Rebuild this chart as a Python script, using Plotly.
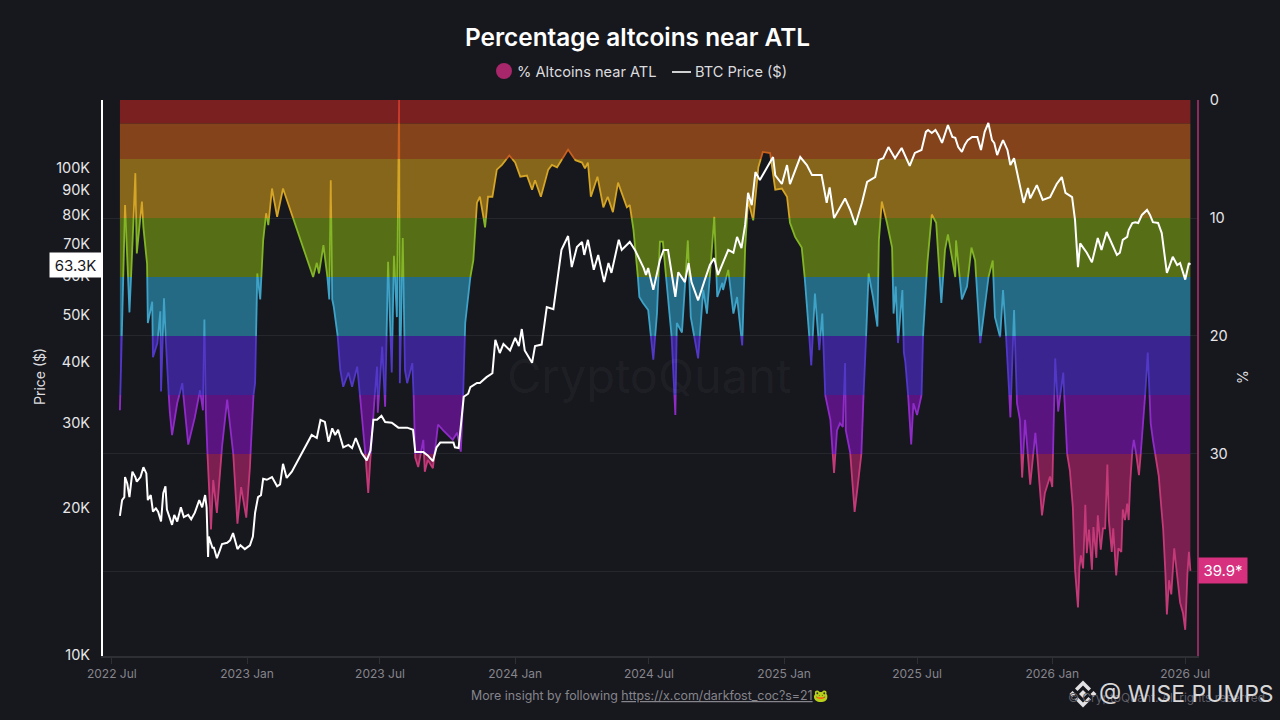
import numpy as np
import pandas as pd
import plotly.graph_objects as go

START = pd.Timestamp("2022-07-01")

# % altcoins near ATL: days since START, percent
alt_days = [11,14,18,21,24,28,32,34,41,43,48,49,55,56,62,66,67,71,75,79,82,89,96,100,104,113,120,124,126,128,130,135,138,143,150,157,161,165,171,176,183,188,192,195,198,202,206,210,213,218,225,233,274,279,282,288,293,296,298,300,302,307,311,315,322,327,334,338,342,349,352,356,361,362,368,372,376,381,384,388,391,392,396,399,402,409,411,413,417,424,426,430,437,444,451,464,470,475,478,481,488,492,497,501,505,508,512,518,524,531,541,549,556,565,572,576,584,594,599,606,621,631,640,644,648,652,661,669,675,682,689,696,701,705,710,716,718,723,730,737,742,746,750,756,762,767,769,776,784,788,798,805,810,817,820,824,831,832,839,846,851,858,862,866,873,880,886,896,903,912,919,923,930,939,943,948,952,957,963,967,971,978,983,987,991,995,998,999,1005,1011,1015,1020,1023,1027,1030,1036,1042,1044,1048,1055,1062,1064,1067,1070,1076,1078,1080,1084,1088,1091,1096,1102,1104,1110,1116,1122,1129,1134,1138,1148,1149,1157,1164,1170,1175,1182,1192,1199,1202,1209,1213,1219,1223,1228,1232,1236,1239,1243,1250,1257,1264,1266,1270,1277,1280,1284,1288,1295,1298,
            1300,1304,1308,1310,1311,1315,1317,1319,1322,1325,1327,1330,1334,1336,1340,1342,1346,1349,1352,1355,1357,1361,1363,1367,1370,1374,1376,1379,1382,1384,1386,1389,1391,1394,1398,1402,1406,1410,1414,1417,1423,1425,1428,1431,1434,1436,1439,1442,1446,1450,1454,1458,1461,1464,1466,1468]
alt_pct = [26.3,18.9,8.9,13.3,18.0,12.5,6.2,13.0,8.6,10.8,13.9,18.9,17.1,21.8,20.6,17.9,24.7,16.8,22.6,26.5,28.4,25.7,24.0,26.9,29.2,26.9,24.6,26.3,18.6,26.5,29.7,36.4,32.2,35.0,29.4,25.4,27.4,29.7,35.9,32.8,35.4,31.1,25.4,24.0,14.7,16.9,11.9,9.6,10.6,7.5,9.9,7.5,15.0,13.8,14.7,12.3,14.7,16.9,6.8,16.9,17.5,19.7,22.9,24.3,23.1,24.3,22.6,25.2,27.4,33.3,30.3,26.5,22.6,26.5,20.9,26.0,13.7,23.1,13.2,18.4,0.0,24.0,11.7,22.9,24.0,22.3,25.4,30.3,31.1,28.8,31.5,30.5,31.2,27.5,28.0,28.8,28.2,29.8,25.4,18.9,15.0,13.6,8.7,8.2,9.6,10.8,8.2,8.2,5.9,5.5,4.7,5.3,6.5,6.4,7.6,6.8,8.2,5.9,5.5,5.7,4.2,5.1,5.3,5.8,5.3,8.2,6.5,9.1,8.2,9.5,7.0,8.2,9.1,8.9,11.0,15.0,16.7,17.2,17.8,22.0,18.1,12.0,12.0,16.1,20.1,26.7,18.9,19.7,11.9,18.4,21.9,16.1,18.1,12.5,9.9,16.7,15.5,16.1,14.4,18.1,16.7,20.8,12.5,8.5,10.2,5.7,4.4,4.5,7.6,7.5,8.2,10.4,11.6,12.5,15.0,18.9,22.5,16.4,21.2,18.1,25.0,27.1,31.6,28.0,27.4,27.7,22.3,28.0,29.9,34.9,32.8,30.3,25.2,19.5,14.7,16.7,19.2,11.9,8.6,10.4,12.5,18.1,15.8,20.6,16.1,21.4,22.2,25.2,29.2,25.7,26.7,25.2,20.1,13.8,9.7,10.4,17.2,12.7,11.4,15.0,11.9,16.9,15.8,12.5,13.6,20.6,15.3,13.6,18.4,20.1,16.1,21.8,26.9,17.8,25.7,27.1,32.0,27.1,32.6,28.2,33.3,35.2,33.3,31.9,32.8,21.9,26.4,23.1,27.4,
           29.9,31.4,34.5,38.7,39.8,43.0,39.6,38.6,39.7,34.3,38.4,36.4,39.8,36.2,38.8,35.2,38.1,36.3,36.3,30.9,35.6,38.3,36.3,40.3,38.0,38.3,34.7,35.6,34.2,35.6,32.5,29.7,28.8,29.9,31.8,28.8,25.4,21.4,27.4,28.8,31.1,31.9,34.2,36.4,40.1,43.6,40.7,41.9,38.0,40.4,42.6,43.5,44.9,40.1,38.3,39.9]

# BTC price: days since START, thousand dollars
btc_days = [11,14,17,18,21,24,28,32,34,39,43,47,49,53,56,60,63,67,70,73,75,82,85,89,94,98,104,108,113,119,123,127,129,131,132,137,139,143,147,150,157,161,165,171,175,181,188,192,195,199,203,206,
            211,218,225,229,233,238,245,272,279,284,290,295,300,304,308,315,322,327,332,340,347,352,356,361,367,372,381,390,402,410,413,424,430,437,442,447,465,467,472,474,479,485,488,497,501,510,518,522,528,533,542,549,554,558,562,572,576,585,592,601,608,612,621,626,633,640,643,648,656,662,670,676,680,690,694,705,712,724,727,730,737,746,751,757,767,771,780,785,789,798,807,814,820,825,839,846,851,857,862,866,871,876,882,891,900,903,912,919,923,937,946,953,966,973,977,983,998,1005,1012,1021,1028,1039,1044,1050,1057,1066,1075,1086,1093,1102,
            1108,1111,1116,1121,1125,1130,1134,1138,1144,1148,1152,1157,1161,1165,1171,1178,1183,1188,1193,1198,1201,1205,1209,1213,1219,1223,1228,1234,
            1241,1247,1250,1259,1267,1277,1286,1293,1298,1307,1311,1315,1318,1327,1334,1342,1347,1354,
            1359,1363,1368,1372,1376,1382,1384,1389,1393,1397,1402,1409,1413,1417,1424,1429,1432,1436,1439,1444,1450,1454,1461,1466,1468]
btc_price_k = [19.3,20.8,21.1,23.2,22.5,21.1,23.8,23.2,22.7,23.2,24.3,23.6,20.8,21.3,19.7,20.0,19.7,18.8,21.5,22.2,19.9,18.5,19.4,18.8,20.1,19.2,19.4,19.0,19.6,20.8,20.1,21.3,20.1,15.9,17.5,16.6,16.6,15.8,16.4,16.9,17.0,17.2,17.8,16.5,16.8,16.5,16.8,17.5,19.6,21.1,21.3,23.0,
               22.9,23.2,22.2,22.4,24.7,23.1,23.8,28.3,27.9,30.4,30.1,27.4,29.2,28.3,29.0,26.7,27.0,26.6,27.9,26.0,25.1,26.3,30.4,30.4,31.0,30.1,30.0,29.3,29.3,29.0,26.1,26.1,25.7,25.0,26.7,27.3,27.3,26.7,26.6,28.6,33.9,34.4,35.5,36.2,36.2,37.2,37.9,44.4,41.7,43.5,42.2,44.8,43.1,46.7,42.2,39.8,43.1,43.4,51.8,51.3,61.8,67.9,72.5,62.6,68.8,70.5,66.3,71.2,61.8,66.3,58.3,63.8,60.9,71.2,67.9,70.5,67.9,62.3,60.3,62.3,56.2,64.7,67.9,67.9,54.4,61.1,58.3,63.8,58.3,53.5,58.9,63.2,65.3,60.3,67.9,67.0,72.2,68.5,76.4,88.9,83.9,98.1,94.5,100.0,105.3,96.6,92.7,101.4,92.7,105.3,101.4,96.7,96.7,84.8,91.2,78.9,86.6,82.0,76.4,84.8,93.6,95.8,103.9,104.7,110.4,104.7,109.9,101.0,107.4,108.9,
               118.6,119.7,118.0,119.7,116.9,112.6,116.9,122.5,115.8,115.3,110.4,107.9,111.6,114.1,115.8,115.8,108.9,118.6,123.7,114.1,112.6,106.3,110.4,114.1,108.9,101.4,104.7,95.4,
               84.8,91.0,86.6,92.2,86.0,87.1,92.7,95.8,88.9,87.1,78.2,62.6,70.0,67.0,64.0,71.8,67.9,73.9,
               71.2,68.8,66.3,67.0,71.2,72.2,74.6,77.1,77.4,77.1,80.1,82.0,80.1,77.4,77.1,73.5,67.9,60.9,62.6,65.7,63.2,63.8,59.0,63.8,63.3]

band_edges = [0, 2, 5, 10, 15, 20, 25, 30, 60]
band_fill = ["#7a2020", "#84431a", "#85661a", "#566f17", "#256a85", "#3a2490", "#5a1480", "#7a1f4f"]
band_line = ["#c63a2c", "#c8601f", "#d4a526", "#84b526", "#3fa3c8", "#5238c6", "#8f2cc8", "#c43a78"]

x_tick_dates = ["2022-07-01","2023-01-01","2023-07-01","2024-01-01","2024-07-01","2025-01-01","2025-07-01","2026-01-01","2026-07-01"]
x_tick_text = ["2022 Jul","2023 Jan","2023 Jul","2024 Jan","2024 Jul","2025 Jan","2025 Jul","2026 Jan","2026 Jul"]
price_ticks = [10000,20000,30000,40000,50000,60000,70000,80000,90000,100000]
price_tick_text = ["10K","20K","30K","40K","50K","60K","70K","80K","90K","100K"]
pct_ticks = [0,10,20,30,40]
pct_tick_text = ["0","10","20","30",""]

BG = "#17171e"
W, H = 1280, 720
L, R, T, B = 103, 1197, 100, 656


def px(x):
    return (x - L) / (R - L)


def py(y):
    return (B - y) / (B - T)


def with_band_crossings(days, vals, edges):
    """Add the points where the polyline crosses a band edge, so that colours split cleanly."""
    out_d, out_v = [days[0]], [vals[0]]
    for d0, v0, d1, v1 in zip(days[:-1], vals[:-1], days[1:], vals[1:]):
        cuts = [e for e in edges if min(v0, v1) < e < max(v0, v1)]
        cuts.sort(reverse=v0 > v1)
        for e in cuts:
            out_d.append(d0 + (e - v0) / (v1 - v0) * (d1 - d0))
            out_v.append(e)
        out_d.append(d1)
        out_v.append(v1)
    return np.array(out_d), np.array(out_v, dtype=float)


def to_dates(days):
    return START + pd.to_timedelta(np.asarray(days, dtype=float), unit="D")


d, v = with_band_crossings(alt_days, alt_pct, band_edges)
dates = to_dates(d)

fig = go.Figure()
for i in range(len(band_fill)):
    lo, hi = band_edges[i], band_edges[i + 1]
    fig.add_trace(go.Scatter(x=dates, y=np.full(len(d), lo), mode="lines", line=dict(width=0),
                             hoverinfo="skip", showlegend=False, yaxis="y"))
    fig.add_trace(go.Scatter(x=dates, y=np.clip(v, lo, hi), mode="lines", line=dict(width=0),
                             fill="tonexty", fillcolor=band_fill[i], hoverinfo="skip",
                             showlegend=False, yaxis="y"))
for i in range(len(band_line)):
    lo, hi = band_edges[i], band_edges[i + 1]
    fig.add_trace(go.Scatter(x=dates, y=np.where((v >= lo) & (v <= hi), v, np.nan), mode="lines",
                             line=dict(color=band_line[i], width=1.8), connectgaps=False,
                             name="% Altcoins near ATL", showlegend=False, yaxis="y"))
fig.add_trace(go.Scatter(x=to_dates(btc_days), y=np.array(btc_price_k) * 1000, mode="lines",
                         line=dict(color="#ffffff", width=2), name="BTC Price ($)",
                         showlegend=False, yaxis="y2"))

FONT = "Inter, Liberation Sans, sans-serif"
ann = []


def note(text, x, y, size, color, **kw):
    ann.append(dict(text=text, x=px(x), y=py(y), xref="paper", yref="paper", showarrow=False,
                    font=dict(family=FONT, size=size, color=color), **kw))


note("% Altcoins near ATL", 515, 72, 14.6, "#dcdcdf", xanchor="left", yanchor="middle")
note("BTC Price ($)", 693, 72, 14.6, "#dcdcdf", xanchor="left", yanchor="middle")
note("Price ($)", 39, 377, 14, "#dcdcdf", xanchor="center", yanchor="middle", textangle=-90)
note("%", 1242, 377, 14, "#dcdcdf", xanchor="center", yanchor="middle", textangle=-90)
note("CryptoQuant", 649, 375, 47, "rgba(255,255,255,0.045)", xanchor="center", yanchor="middle")
note("More insight by following <u>https://x.com/darkfost_coc?s=21</u>🐸", 649, 695, 12.4, "#85858b",
     xanchor="center", yanchor="middle")
note("© CryptoQuant. All rights reserved.", 1168, 697, 12, "#5e5e64", xanchor="center", yanchor="middle")
note("@ WISE PUMPS", 1276, 694, 23, "#d6d6d8", xanchor="right", yanchor="middle")

ann.append(dict(text=f"{btc_price_k[-1]:.1f}K", x=px(102), y=np.log10(btc_price_k[-1] * 1000),
                xref="paper", yref="y2", xanchor="right", yanchor="middle", showarrow=False,
                width=49, height=22, bgcolor="#ffffff", align="center",
                font=dict(family=FONT, size=15, color="#17171e")))
ann.append(dict(text=f"{alt_pct[-1]:.1f}*", x=px(1198), y=alt_pct[-1],
                xref="paper", yref="y", xanchor="left", yanchor="middle", showarrow=False,
                width=46, height=23, bgcolor="#d6307f", align="center",
                font=dict(family=FONT, size=15, color="#ffffff")))


def poly(points, cx, cy):
    return "M " + " L ".join(f"{px(cx + a)} {py(cy + b)}" for a, b in points) + " Z"


logo_color = "#e2e2e4"
logo_cx, logo_cy = 1083, 694
logo_parts = [
    [(-4, 0), (0, -4), (4, 0), (0, 4)],
    [(-13.5, 0), (-10.5, -3), (-7.5, 0), (-10.5, 3)],
    [(13.5, 0), (10.5, -3), (7.5, 0), (10.5, 3)],
    [(-8, -5.5), (0, -13.5), (8, -5.5), (5.5, -3), (0, -8.5), (-5.5, -3)],
    [(-8, 5.5), (0, 13.5), (8, 5.5), (5.5, 3), (0, 8.5), (-5.5, 3)],
]
shapes = [
    dict(type="circle", xref="paper", yref="paper", x0=px(496), x1=px(512), y0=py(79), y1=py(63),
         fillcolor="#a8266a", line=dict(width=0)),
    dict(type="line", xref="paper", yref="paper", x0=px(672), x1=px(691), y0=py(72), y1=py(72),
         line=dict(color="#ffffff", width=1.6)),
]
for part in logo_parts:
    shapes.append(dict(type="path", xref="paper", yref="paper", path=poly(part, logo_cx, logo_cy),
                       fillcolor=logo_color, line=dict(width=0)))

fig.update_layout(
    width=W, height=H, autosize=False,
    paper_bgcolor=BG, plot_bgcolor=BG,
    margin=dict(l=L, r=W - R, t=T, b=H - B, pad=0),
    showlegend=False,
    title=dict(text="Percentage altcoins near ATL", x=637.5 / W, y=1 - 37 / H, xanchor="center",
               yanchor="middle", xref="container", yref="container",
               font=dict(family=FONT, size=24.4, color="#ffffff", weight=600)),
    xaxis=dict(type="date", range=["2022-06-19", "2026-07-17"], tickvals=x_tick_dates, ticktext=x_tick_text,
               showgrid=False, zeroline=False, showline=True, linecolor="#2e2f35", linewidth=1.5,
               ticks="outside", ticklen=6, tickcolor="#2e2f35", tickangle=0,
               tickfont=dict(family=FONT, size=12, color="#85858b")),
    yaxis=dict(range=[47.12, 0], side="right", tickvals=pct_ticks, ticktext=pct_tick_text,
               showgrid=True, gridcolor="#26262d", gridwidth=1, zeroline=False, showline=True,
               linecolor="#8d2a5e", linewidth=1.5, ticks="", ticklabelstandoff=8,
               tickfont=dict(family=FONT, size=14.5, color="#e6e6e8")),
    yaxis2=dict(type="log", range=[3.998, 5.1396], side="left", overlaying="y", anchor="x",
                tickvals=price_ticks, ticktext=price_tick_text, showgrid=False, zeroline=False, showline=True,
                linecolor="#ffffff", linewidth=2, ticks="", ticklabelstandoff=8,
                tickfont=dict(family=FONT, size=14.5, color="#e6e6e8")),
    annotations=ann, shapes=shapes,
)

fig.write_html("out.html", config={"displayModeBar": False},
               post_script="document.body.style.margin='0';document.body.style.background='#17171e';")
